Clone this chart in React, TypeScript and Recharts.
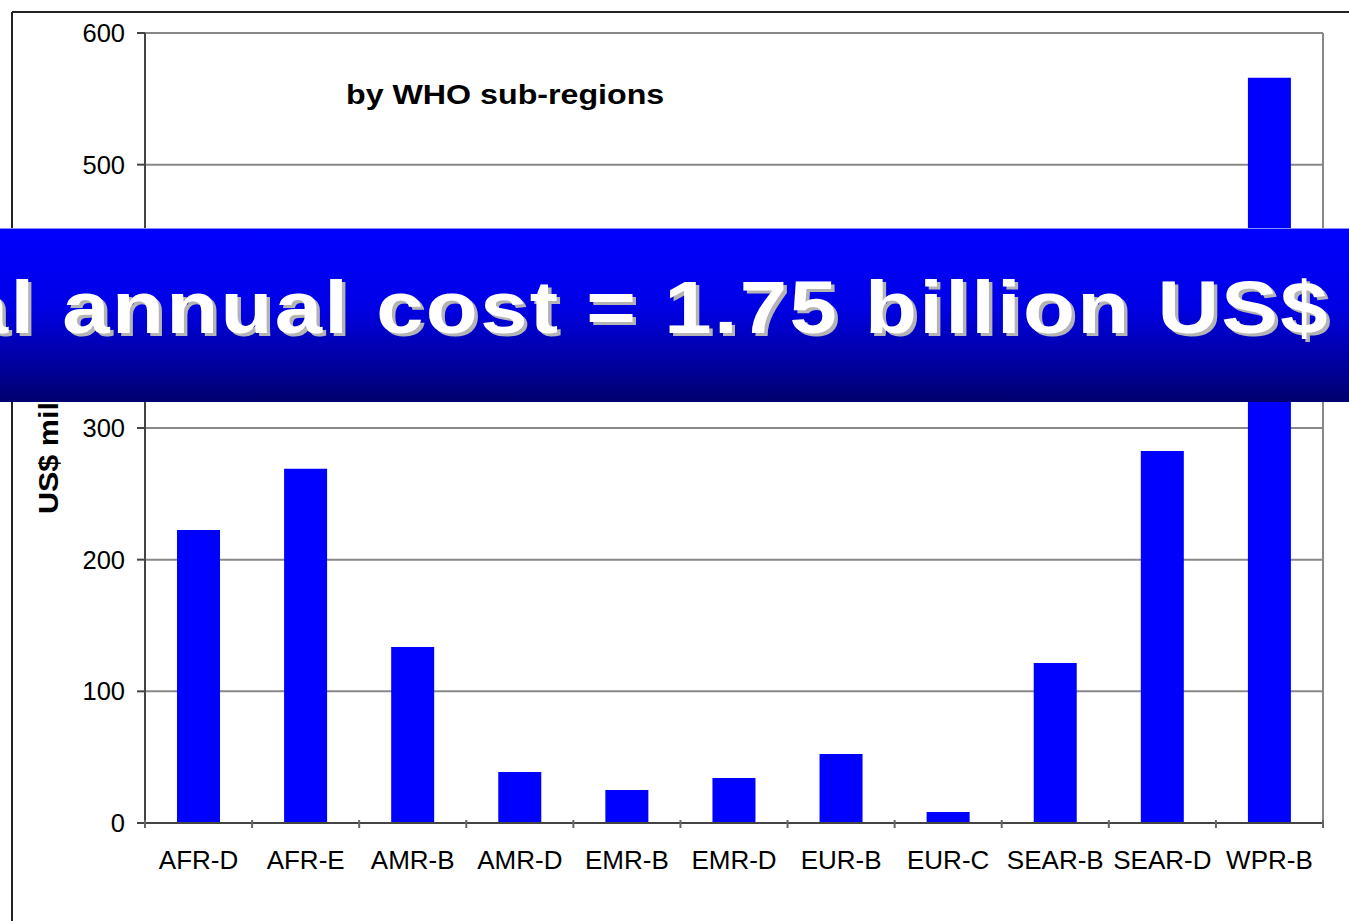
import React from 'react';
import { BarChart, Bar, XAxis, YAxis, CartesianGrid } from 'recharts';

const regions = ['AFR-D', 'AFR-E', 'AMR-B', 'AMR-D', 'EMR-B', 'EMR-D', 'EUR-B', 'EUR-C', 'SEAR-B', 'SEAR-D', 'WPR-B'];
const costs = [222.5, 269, 133.7, 38.7, 25, 34.2, 52.4, 8.4, 121.5, 282.5, 566];
const yTicks = [0, 100, 200, 300, 400, 500, 600];

const data = regions.map((name, i) => ({ name, cost: costs[i] }));

const FONT = '"Liberation Sans", Arial, sans-serif';

// Excel-style x tick: label centered in the band, tick mark on the band's left edge
const RegionTick = (props: any) => {
  const { x, y, payload, index, visibleTicksCount } = props;
  const half = payload && payload.offset ? payload.offset : 1178 / 11 / 2;
  const isLast = index === (visibleTicksCount ?? regions.length) - 1;
  return (
    <g>
      <line x1={x - half} x2={x - half} y1={y - 11} y2={y - 3} stroke="#666" strokeWidth={2} />
      {isLast && <line x1={x + half} x2={x + half} y1={y - 11} y2={y - 3} stroke="#666" strokeWidth={2} />}
      <text x={x} y={y + 38} textAnchor="middle" fill="#000" fontSize={26} fontFamily={FONT}>
        {payload.value}
      </text>
    </g>
  );
};

const App: React.FC = () => {
  return (
    <div style={{ position: 'absolute', left: 0, top: 0, width: 1349, height: 921, background: '#fff', overflow: 'hidden' }}>
      <BarChart
        width={1349}
        height={921}
        data={data}
        margin={{ top: 33, right: 26, bottom: 0, left: 0 }}
        barCategoryGap={0}
      >
        <CartesianGrid
          stroke="#888"
          strokeWidth={2}
          horizontal={true}
          vertical={true}
          verticalCoordinatesGenerator={({ offset }: any) => [offset.left + offset.width]}
        />
        <XAxis
          dataKey="name"
          height={98}
          tickLine={false}
          axisLine={{ stroke: '#444', strokeWidth: 2 }}
          tick={<RegionTick />}
          interval={0}
        />
        <YAxis
          width={145}
          domain={[0, 600]}
          ticks={yTicks}
          interval={0}
          tickSize={8}
          tickMargin={12}
          tickLine={{ stroke: '#444', strokeWidth: 2 }}
          axisLine={{ stroke: '#444', strokeWidth: 2 }}
          tick={{ fill: '#000', fontSize: 25.5, fontFamily: FONT }}
        />
        <Bar dataKey="cost" fill="#0000ff" barSize={43} isAnimationActive={false} />
      </BarChart>

      <svg width={1349} height={921} style={{ position: 'absolute', left: 0, top: 0, pointerEvents: 'none' }}>
        <defs>
          <linearGradient id="bannerFill" x1="0" y1="0" x2="0" y2="1">
            <stop offset="0%" stopColor="#0000ff" />
            <stop offset="45%" stopColor="#0000e6" />
            <stop offset="100%" stopColor="#00006e" />
          </linearGradient>
        </defs>
        {/* outer frame */}
        <line x1={12} y1={12} x2={1349} y2={12} stroke="#222" strokeWidth={2} />
        <line x1={12} y1={12} x2={12} y2={921} stroke="#222" strokeWidth={2} />

        <g transform="translate(346,104) scale(1.15,1)">
          <text x={0} y={0} fontSize={28} fontWeight="bold" fontFamily={FONT} fill="#000">
            by WHO sub-regions
          </text>
        </g>

        <g transform="translate(58,514) rotate(-90) scale(1.13,1)">
          <text x={0} y={0} fontSize={27} fontWeight="bold" fontFamily={FONT} fill="#000">
            US$ millions
          </text>
        </g>

        <rect x={0} y={228} width={1349} height={174} fill="url(#bannerFill)" />
        <line x1={0} y1={228.5} x2={1349} y2={228.5} stroke="#8c8cff" strokeWidth={1} />
        <g transform="translate(1330,333) scale(1.15,1)">
          <text x={3} y={3} textAnchor="end" fontSize={74} fontWeight="bold" fontFamily={FONT} fill="#b4b4b4" letterSpacing={2}>
            Total annual cost = 1.75 billion US$
          </text>
          <text x={0} y={0} textAnchor="end" fontSize={74} fontWeight="bold" fontFamily={FONT} fill="#fff" letterSpacing={2}>
            Total annual cost = 1.75 billion US$
          </text>
        </g>
      </svg>
    </div>
  );
};

export default App;
